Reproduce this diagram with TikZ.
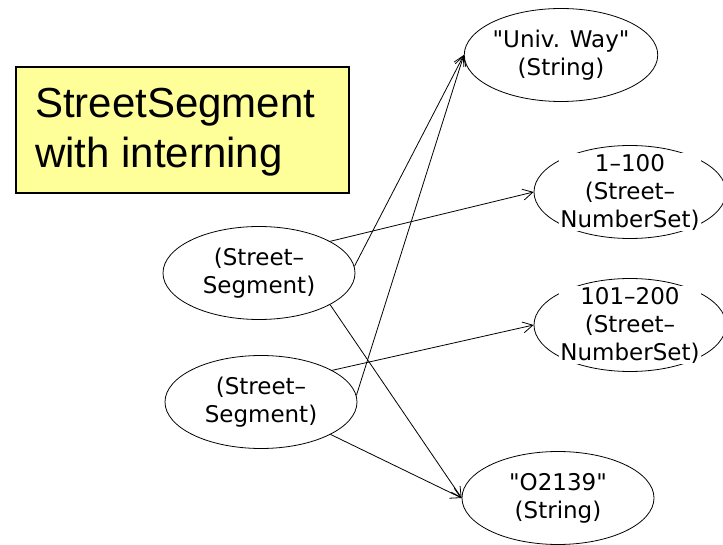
\documentclass[tikz,border=0pt]{standalone}
\usepackage{fontspec}
\newfontfamily\objfont{DejaVu Sans}
\newfontfamily\titlefont{Liberation Sans}
\usetikzlibrary{shapes.geometric,arrows.meta}
\definecolor{boxyellow}{HTML}{FFFF99}
\begin{document}
\begin{tikzpicture}[x=1pt,y=-1pt,
  obj/.style={ellipse,draw,line width=0.8pt,minimum width=192pt,minimum height=93pt,inner sep=0pt,font=\objfont\fontsize{23}{28}\selectfont,align=center},
  lbl/.style={fill=white,inner sep=1pt,font=\objfont\fontsize{23}{28}\selectfont,align=center},
  link/.style={line width=0.8pt,-{Straight Barb[length=10pt,width=11pt]}},
  titlebox/.style={rectangle,draw,line width=1.6pt,fill=boxyellow,minimum width=333pt,minimum height=126pt,inner sep=0pt},
  titletext/.style={font=\titlefont\fontsize{42}{50}\selectfont,align=left,inner sep=0pt,anchor=west}]
\useasboundingbox (0,0) rectangle (723,545);
\node[titlebox] (title) at (182.5,130) {};
\node[titletext] (titletxt) at (35,132.5) {StreetSegment\\with interning};

\node[obj] (uw) at (561,55) {"Univ. Way"\\(String)};
\node[obj] (ns1) at (630,192) {};
\node[lbl] (ns1t) at (630,192) {1–100\\(Street–\\NumberSet)};
\node[obj] (ns2) at (630,325) {};
\node[lbl] (ns2t) at (630,325) {101–200\\(Street–\\NumberSet)};
\node[obj] (zip) at (558,498) {"O2139"\\(String)};
\node[obj] (ss1) at (259,273) {(Street–\\Segment)};
\node[obj] (ss2) at (261,402) {(Street–\\Segment)};

\draw[link] (ss1.4) -- (uw.west);
\draw[link] (ss2.4) -- (uw.west);
\draw[link] (ss1.24) -- (ns1.west);
\draw[link] (ss2.24) -- (ns2.west);
\draw[link] (ss1.-24) -- (zip.west);
\draw[link] (ss2.-25) -- (zip.west);
\end{tikzpicture}
\end{document}
